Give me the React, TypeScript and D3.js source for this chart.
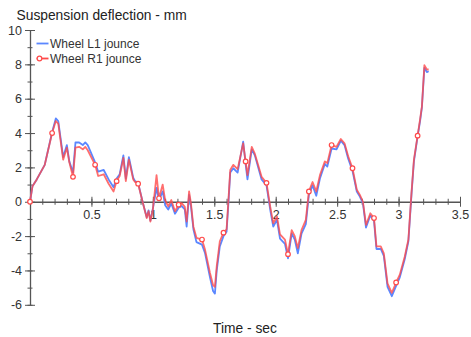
import React from "react";
import { select, scaleLinear, line, axisLeft, axisBottom, range } from "d3";

// time (s)
const times = [
  0, 0.02, 0.055, 0.12, 0.18, 0.21, 0.23, 0.27, 0.3, 0.32, 0.35, 0.37, 0.4, 0.43, 0.45, 0.47,
  0.53, 0.555, 0.6, 0.64, 0.68, 0.705, 0.73, 0.76, 0.78, 0.805, 0.84, 0.855, 0.88, 0.92, 0.95,
  0.965, 0.98, 1.0, 1.03, 1.05, 1.08, 1.1, 1.125, 1.15, 1.18, 1.21, 1.235, 1.26, 1.275, 1.295,
  1.31, 1.33, 1.355, 1.4, 1.425, 1.465, 1.49, 1.505, 1.52, 1.545, 1.575, 1.6, 1.615, 1.63,
  1.655, 1.69, 1.735, 1.755, 1.77, 1.805, 1.83, 1.885, 1.925, 1.955, 1.98, 2.01, 2.035, 2.075,
  2.1, 2.13, 2.155, 2.18, 2.21, 2.245, 2.27, 2.3, 2.33, 2.36, 2.4, 2.42, 2.455, 2.495, 2.53,
  2.56, 2.59, 2.625, 2.66, 2.685, 2.71, 2.735, 2.77, 2.8, 2.82, 2.855, 2.88, 2.91, 2.945, 2.98,
  3.01, 3.05, 3.08, 3.105, 3.125, 3.155, 3.175, 3.19, 3.21, 3.23, 3.245,
];

// Wheel L1 jounce (mm)
const wheelL1 = [
  0, 0.9, 1.3, 2.15, 4.05, 4.85, 4.7, 2.6, 3.3, 2.35, 1.7, 3.45, 3.45, 3.3, 3.45, 3.3,
  2.3, 1.75, 1.85, 1.3, 0.85, 1.35, 1.6, 2.7, 1.35, 2.6, 1.4, 1.2, 1.1, -0.1, -0.9,
  -0.5, -1.1, -0.4, 0.8, 0.1, 0.6, -0.2, -0.45, -0.1, -0.7, -0.35, -0.25, -0.45, -1.45, 0.4,
  -0.25, -1.6, -2.35, -2.5, -3.0, -4.4, -5.2, -5.35, -4.0, -2.6, -2.0, -1.75, -0.1, 1.7,
  1.95, 1.7, 3.5, 2.2, 1.3, 3.05, 2.7, 1.3, 0.95, -0.45, -1.45, -1.05, -2.15, -2.45,
  -3.3, -1.85, -2.2, -3.0, -1.85, -1.3, 0.4, 0.95, 0.35, 1.35, 2.2, 2.05, 3.1, 3.05, 3.55,
  3.3, 2.5, 1.8, 0.6, 0.3, -0.1, -1.5, -0.8, -1.1, -2.75, -2.75, -3.15, -4.95, -5.5, -4.9,
  -4.4, -3.35, -2.3, 0.4, 2.35, 3.8, 4.7, 5.5, 7.8, 7.55, 7.6,
];

// Wheel R1 jounce (mm)
const wheelR1 = [
  0, 0.9, 1.3, 2.15, 4.0, 4.7, 4.55, 2.45, 3.15, 2.3, 1.45, 3.15, 3.2, 3.05, 3.2, 3.0,
  2.15, 1.5, 1.6, 1.05, 0.6, 1.2, 1.5, 2.55, 1.2, 2.45, 1.3, 1.15, 1.05, -0.1, -0.95,
  -0.55, -1.15, -0.45, 1.55, 0.2, 1.0, 0.1, -0.27, 0.1, -0.55, -0.17, -0.08, -0.3, -1.15, 0.6,
  -0.1, -1.45, -2.1, -2.2, -2.8, -4.15, -4.85, -4.95, -3.75, -2.3, -1.8, -1.6, 0.1, 1.85,
  2.15, 1.9, 3.4, 2.35, 1.55, 3.2, 2.8, 1.45, 1.1, -0.27, -1.25, -0.85, -1.9, -2.2,
  -3.05, -1.65, -2.0, -2.7, -1.65, -1.05, 0.6, 1.15, 0.6, 1.55, 2.35, 2.25, 3.3, 3.2, 3.65,
  3.4, 2.65, 1.95, 0.7, 0.4, 0.0, -1.35, -0.67, -0.95, -2.6, -2.6, -3.0, -4.75, -5.3, -4.7,
  -4.25, -3.2, -2.2, 0.5, 2.45, 3.85, 4.8, 5.55, 7.95, 7.7, 7.7,
];

const markerTimes = [
  0, 0.18, 0.35, 0.53, 0.705, 0.88, 1.05, 1.21, 1.4, 1.575, 1.755, 1.925, 2.1, 2.27, 2.455,
  2.625, 2.8, 2.98, 3.155,
];

const yMajor = [-6, -4, -2, 0, 2, 4, 6, 8, 10];
const yMinor = range(-6, 11, 1);
const xMajor = [0.5, 1, 1.5, 2, 2.5, 3, 3.5];
const xMinor = range(1, 36).map((d) => d / 10);

const seriesNames = ["Wheel L1 jounce", "Wheel R1 jounce"];
const BLUE = "#5b87ff";
const RED = "#ff4a4a";
const FONT = "'Liberation Sans', Arial, sans-serif";

export default function App() {
  const svgRef = React.useRef<SVGSVGElement>(null);
  const width = 471;
  const height = 337;

  React.useEffect(() => {
    const svg = select(svgRef.current);
    const x = scaleLinear().domain([0, 3.5]).range([30, 460]);
    const y = scaleLinear().domain([-6, 10]).range([304.8, 30]);

    // y axis: minor then major ticks, crossing the axis line
    svg
      .select<SVGGElement>(".y-minor")
      .attr("transform", `translate(${x(0)},0)`)
      .call(axisLeft(y).tickValues(yMinor).tickFormat(() => "").tickSizeOuter(0))
      .call((g) => g.select(".domain").remove())
      .call((g) => g.selectAll("line").attr("x1", 2.5).attr("x2", -2.5).attr("stroke", "#555"));

    svg
      .select<SVGGElement>(".y-axis")
      .attr("transform", `translate(${x(0)},0)`)
      .call(axisLeft(y).tickValues(yMajor).tickFormat((d) => String(d)).tickSizeOuter(0))
      .call((g) => g.select(".domain").attr("stroke", "#555").attr("stroke-width", 1.3))
      .call((g) => g.selectAll("line").attr("x1", 5).attr("x2", -5).attr("stroke", "#555"))
      .call((g) =>
        g
          .selectAll("text")
          .attr("x", -8)
          .attr("fill", "#333")
          .style("font-family", FONT)
          .style("font-size", "12.5px")
      );

    // x axis at y = 0
    svg
      .select<SVGGElement>(".x-minor")
      .attr("transform", `translate(0,${y(0)})`)
      .call(axisBottom(x).tickValues(xMinor).tickFormat(() => "").tickSizeOuter(0))
      .call((g) => g.select(".domain").remove())
      .call((g) => g.selectAll("line").attr("y1", -3).attr("y2", 3).attr("stroke", "#555"));

    svg
      .select<SVGGElement>(".x-axis")
      .attr("transform", `translate(0,${y(0)})`)
      .call(axisBottom(x).tickValues(xMajor).tickFormat((d) => String(d)).tickSizeOuter(0))
      .call((g) => g.select(".domain").attr("stroke", "#555").attr("stroke-width", 1.3))
      .call((g) => g.selectAll("line").attr("y1", -5).attr("y2", 5).attr("stroke", "#555"))
      .call((g) =>
        g
          .selectAll("text")
          .attr("y", 8)
          .attr("fill", "#333")
          .style("font-family", FONT)
          .style("font-size", "12.5px")
      );

    const path = line<number>()
      .x((_, i) => x(times[i]))
      .y((v) => y(v));

    svg
      .select(".lines")
      .selectAll("path")
      .data([
        { vals: wheelL1, color: BLUE, op: 1 },
        { vals: wheelR1, color: RED, op: 0.8 },
      ])
      .join("path")
      .attr("d", (d) => path(d.vals))
      .attr("fill", "none")
      .attr("stroke", (d) => d.color)
      .attr("stroke-opacity", (d) => d.op)
      .attr("stroke-width", 1.8)
      .attr("stroke-linejoin", "round");

    svg
      .select(".markers")
      .selectAll("circle")
      .data(markerTimes)
      .join("circle")
      .attr("cx", (t) => x(t))
      .attr("cy", (t) => y(wheelR1[times.indexOf(t)]))
      .attr("r", 2.3)
      .attr("fill", "white")
      .attr("stroke", RED)
      .attr("stroke-width", 1.2);
  }, []);

  return (
    <svg
      ref={svgRef}
      width={width}
      height={height}
      style={{ position: "absolute", left: 0, top: 0, background: "white" }}
    >
      <g className="y-minor" />
      <g className="x-minor" />
      <g className="y-axis" />
      <g className="x-axis" />
      <g className="lines" />
      <g className="markers" />
      <text x={16.5} y={20} fontFamily={FONT} fontSize={13.8} fill="#222">
        Suspension deflection - mm
      </text>
      <text x={245} y={333} textAnchor="middle" fontFamily={FONT} fontSize={13.8} fill="#222">
        Time - sec
      </text>
      <g className="legend" fontFamily={FONT} fontSize={12} fill="#333">
        <line x1={36.5} x2={48.5} y1={43.5} y2={43.5} stroke={BLUE} strokeWidth={1.8} />
        <text x={50} y={47.5}>
          {seriesNames[0]}
        </text>
        <line x1={36.5} x2={48.5} y1={58.5} y2={58.5} stroke={RED} strokeWidth={1.8} />
        <circle cx={39.5} cy={58.5} r={2.3} fill="white" stroke={RED} strokeWidth={1.2} />
        <text x={50} y={62.5}>
          {seriesNames[1]}
        </text>
      </g>
    </svg>
  );
}
